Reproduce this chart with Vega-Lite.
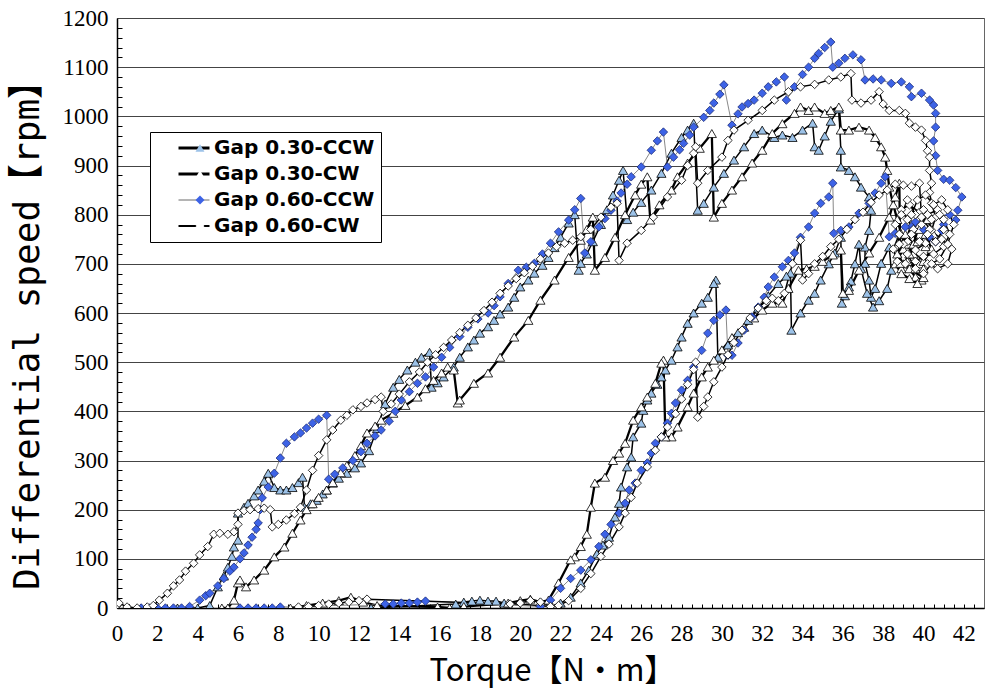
{
  "$schema": "https://vega.github.io/schema/vega-lite/v6.json",
  "autosize": "none",
  "width": 867,
  "height": 590,
  "padding": {"left": 117, "top": 18, "right": 2, "bottom": 82},
  "background": "#ffffff",
  "config": {
    "view": {"stroke": "#666666", "strokeWidth": 1},
    "axis": {"labelFont": "Liberation Sans Narrow", "titleFont": "Liberation Sans Narrow", "labelColor": "#000", "titleColor": "#000"}
  },
  "data": {"values": [
    {"g":"Gap 0.30-CCW","t":0.6,"v":0},{"g":"Gap 0.30-CCW","t":1.2,"v":0},{"g":"Gap 0.30-CCW","t":2.0,"v":0},{"g":"Gap 0.30-CCW","t":3.0,"v":0},{"g":"Gap 0.30-CCW","t":4.0,"v":0},{"g":"Gap 0.30-CCW","t":4.6,"v":5},
    {"g":"Gap 0.30-CCW","t":5.0,"v":43},{"g":"Gap 0.30-CCW","t":5.3,"v":65},{"g":"Gap 0.30-CCW","t":5.5,"v":83},{"g":"Gap 0.30-CCW","t":5.7,"v":105},{"g":"Gap 0.30-CCW","t":5.8,"v":124},{"g":"Gap 0.30-CCW","t":6.0,"v":138},{"g":"Gap 0.30-CCW","t":6.0,"v":193},{"g":"Gap 0.30-CCW","t":6.3,"v":205},{"g":"Gap 0.30-CCW","t":6.5,"v":213},{"g":"Gap 0.30-CCW","t":6.8,"v":228},{"g":"Gap 0.30-CCW","t":7.0,"v":240},{"g":"Gap 0.30-CCW","t":7.3,"v":258},{"g":"Gap 0.30-CCW","t":7.5,"v":274},{"g":"Gap 0.30-CCW","t":7.8,"v":245},{"g":"Gap 0.30-CCW","t":8.1,"v":240},{"g":"Gap 0.30-CCW","t":8.4,"v":240},{"g":"Gap 0.30-CCW","t":8.7,"v":245},{"g":"Gap 0.30-CCW","t":9.0,"v":255},{"g":"Gap 0.30-CCW","t":9.2,"v":266},{"g":"Gap 0.30-CCW","t":9.3,"v":205},{"g":"Gap 0.30-CCW","t":9.6,"v":212},{"g":"Gap 0.30-CCW","t":9.9,"v":219},{"g":"Gap 0.30-CCW","t":10.2,"v":232},{"g":"Gap 0.30-CCW","t":10.4,"v":240},{"g":"Gap 0.30-CCW","t":10.7,"v":254},{"g":"Gap 0.30-CCW","t":11.0,"v":264},{"g":"Gap 0.30-CCW","t":11.4,"v":274},{"g":"Gap 0.30-CCW","t":11.8,"v":285},{"g":"Gap 0.30-CCW","t":12.1,"v":295},{"g":"Gap 0.30-CCW","t":12.5,"v":320},{"g":"Gap 0.30-CCW","t":12.9,"v":365},{"g":"Gap 0.30-CCW","t":13.3,"v":415},{"g":"Gap 0.30-CCW","t":13.7,"v":449},{"g":"Gap 0.30-CCW","t":14.0,"v":465},{"g":"Gap 0.30-CCW","t":14.4,"v":484},{"g":"Gap 0.30-CCW","t":14.8,"v":500},{"g":"Gap 0.30-CCW","t":15.1,"v":510},{"g":"Gap 0.30-CCW","t":15.5,"v":520},{"g":"Gap 0.30-CCW","t":15.6,"v":449},{"g":"Gap 0.30-CCW","t":15.9,"v":458},{"g":"Gap 0.30-CCW","t":16.2,"v":470},{"g":"Gap 0.30-CCW","t":16.7,"v":490},{"g":"Gap 0.30-CCW","t":17.0,"v":510},{"g":"Gap 0.30-CCW","t":17.4,"v":531},{"g":"Gap 0.30-CCW","t":17.7,"v":545},{"g":"Gap 0.30-CCW","t":18.0,"v":559},{"g":"Gap 0.30-CCW","t":18.4,"v":572},{"g":"Gap 0.30-CCW","t":18.7,"v":585},{"g":"Gap 0.30-CCW","t":19.0,"v":598},{"g":"Gap 0.30-CCW","t":19.4,"v":612},{"g":"Gap 0.30-CCW","t":19.7,"v":632},{"g":"Gap 0.30-CCW","t":20.0,"v":653},{"g":"Gap 0.30-CCW","t":20.4,"v":667},{"g":"Gap 0.30-CCW","t":20.7,"v":681},{"g":"Gap 0.30-CCW","t":21.1,"v":697},{"g":"Gap 0.30-CCW","t":21.4,"v":713},{"g":"Gap 0.30-CCW","t":21.7,"v":733},{"g":"Gap 0.30-CCW","t":22.0,"v":754},{"g":"Gap 0.30-CCW","t":22.4,"v":783},{"g":"Gap 0.30-CCW","t":22.7,"v":800},{"g":"Gap 0.30-CCW","t":22.9,"v":687},{"g":"Gap 0.30-CCW","t":23.0,"v":701},{"g":"Gap 0.30-CCW","t":23.3,"v":720},{"g":"Gap 0.30-CCW","t":23.6,"v":745},{"g":"Gap 0.30-CCW","t":24.0,"v":780},{"g":"Gap 0.30-CCW","t":24.3,"v":810},{"g":"Gap 0.30-CCW","t":24.6,"v":840},{"g":"Gap 0.30-CCW","t":24.9,"v":870},{"g":"Gap 0.30-CCW","t":25.1,"v":890},{"g":"Gap 0.30-CCW","t":25.3,"v":790},{"g":"Gap 0.30-CCW","t":25.6,"v":805},{"g":"Gap 0.30-CCW","t":26.0,"v":825},{"g":"Gap 0.30-CCW","t":26.5,"v":850},{"g":"Gap 0.30-CCW","t":27.0,"v":884},{"g":"Gap 0.30-CCW","t":27.5,"v":925},{"g":"Gap 0.30-CCW","t":28.0,"v":957},{"g":"Gap 0.30-CCW","t":28.3,"v":972},{"g":"Gap 0.30-CCW","t":28.6,"v":986},{"g":"Gap 0.30-CCW","t":28.8,"v":809},{"g":"Gap 0.30-CCW","t":29.1,"v":823},{"g":"Gap 0.30-CCW","t":29.6,"v":856},{"g":"Gap 0.30-CCW","t":30.1,"v":884},{"g":"Gap 0.30-CCW","t":30.6,"v":911},{"g":"Gap 0.30-CCW","t":31.1,"v":938},{"g":"Gap 0.30-CCW","t":31.6,"v":965},{"g":"Gap 0.30-CCW","t":32.0,"v":972},{"g":"Gap 0.30-CCW","t":32.6,"v":957},{"g":"Gap 0.30-CCW","t":33.0,"v":962},{"g":"Gap 0.30-CCW","t":33.5,"v":957},{"g":"Gap 0.30-CCW","t":34.0,"v":972},{"g":"Gap 0.30-CCW","t":34.5,"v":986},{"g":"Gap 0.30-CCW","t":34.6,"v":938},{"g":"Gap 0.30-CCW","t":34.8,"v":931},{"g":"Gap 0.30-CCW","t":35.1,"v":960},{"g":"Gap 0.30-CCW","t":35.4,"v":990},{"g":"Gap 0.30-CCW","t":35.8,"v":1015},{"g":"Gap 0.30-CCW","t":35.9,"v":931},
    {"g":"Gap 0.30-CCW","t":35.9,"v":897},{"g":"Gap 0.30-CCW","t":36.3,"v":890},{"g":"Gap 0.30-CCW","t":36.6,"v":877},{"g":"Gap 0.30-CCW","t":36.9,"v":856},{"g":"Gap 0.30-CCW","t":37.3,"v":836},{"g":"Gap 0.30-CCW","t":37.4,"v":809},{"g":"Gap 0.30-CCW","t":37.3,"v":768},{"g":"Gap 0.30-CCW","t":37.1,"v":734},{"g":"Gap 0.30-CCW","t":37.1,"v":701},{"g":"Gap 0.30-CCW","t":37.3,"v":667},{"g":"Gap 0.30-CCW","t":37.4,"v":632},{"g":"Gap 0.30-CCW","t":37.6,"v":650},{"g":"Gap 0.30-CCW","t":37.9,"v":701},{"g":"Gap 0.30-CCW","t":38.3,"v":734},{"g":"Gap 0.30-CCW","t":38.4,"v":687},{"g":"Gap 0.30-CCW","t":38.2,"v":650},{"g":"Gap 0.30-CCW","t":37.8,"v":625},{"g":"Gap 0.30-CCW","t":37.5,"v":612},{"g":"Gap 0.30-CCW","t":37.2,"v":640},{"g":"Gap 0.30-CCW","t":36.9,"v":690},{"g":"Gap 0.30-CCW","t":36.8,"v":740},{"g":"Gap 0.30-CCW","t":36.6,"v":700},{"g":"Gap 0.30-CCW","t":36.4,"v":665},
    {"g":"Gap 0.30-CCW","t":36.3,"v":653},{"g":"Gap 0.30-CCW","t":36.1,"v":635},{"g":"Gap 0.30-CCW","t":35.95,"v":620},{"g":"Gap 0.30-CCW","t":35.9,"v":754},{"g":"Gap 0.30-CCW","t":35.6,"v":722},{"g":"Gap 0.30-CCW","t":35.3,"v":700},{"g":"Gap 0.30-CCW","t":34.9,"v":667},{"g":"Gap 0.30-CCW","t":34.6,"v":640},{"g":"Gap 0.30-CCW","t":34.3,"v":626},{"g":"Gap 0.30-CCW","t":33.9,"v":600},{"g":"Gap 0.30-CCW","t":33.45,"v":565},{"g":"Gap 0.30-CCW","t":33.4,"v":681},{"g":"Gap 0.30-CCW","t":33.2,"v":675},{"g":"Gap 0.30-CCW","t":32.8,"v":660},{"g":"Gap 0.30-CCW","t":32.3,"v":635},{"g":"Gap 0.30-CCW","t":31.8,"v":610},{"g":"Gap 0.30-CCW","t":31.3,"v":585},{"g":"Gap 0.30-CCW","t":30.8,"v":560},{"g":"Gap 0.30-CCW","t":30.3,"v":535},{"g":"Gap 0.30-CCW","t":29.8,"v":510},{"g":"Gap 0.30-CCW","t":29.7,"v":667},{"g":"Gap 0.30-CCW","t":29.6,"v":660},{"g":"Gap 0.30-CCW","t":29.3,"v":632},{"g":"Gap 0.30-CCW","t":29.0,"v":620},{"g":"Gap 0.30-CCW","t":28.6,"v":600},{"g":"Gap 0.30-CCW","t":28.3,"v":579},{"g":"Gap 0.30-CCW","t":28.0,"v":551},{"g":"Gap 0.30-CCW","t":27.8,"v":531},{"g":"Gap 0.30-CCW","t":27.5,"v":504},{"g":"Gap 0.30-CCW","t":27.2,"v":484},{"g":"Gap 0.30-CCW","t":27.0,"v":470},{"g":"Gap 0.30-CCW","t":26.8,"v":455},{"g":"Gap 0.30-CCW","t":26.5,"v":437},{"g":"Gap 0.30-CCW","t":26.3,"v":423},{"g":"Gap 0.30-CCW","t":26.1,"v":402},{"g":"Gap 0.30-CCW","t":26.0,"v":376},{"g":"Gap 0.30-CCW","t":25.6,"v":348},{"g":"Gap 0.30-CCW","t":25.5,"v":307},{"g":"Gap 0.30-CCW","t":25.3,"v":287},{"g":"Gap 0.30-CCW","t":25.0,"v":246},{"g":"Gap 0.30-CCW","t":24.9,"v":213},{"g":"Gap 0.30-CCW","t":24.7,"v":185},{"g":"Gap 0.30-CCW","t":24.4,"v":144},{"g":"Gap 0.30-CCW","t":24.1,"v":128},{"g":"Gap 0.30-CCW","t":23.8,"v":110},{"g":"Gap 0.30-CCW","t":23.4,"v":77},{"g":"Gap 0.30-CCW","t":23.0,"v":51},{"g":"Gap 0.30-CCW","t":22.5,"v":22},{"g":"Gap 0.30-CCW","t":22.0,"v":10},
    {"g":"Gap 0.30-CCW","t":21.5,"v":3},{"g":"Gap 0.30-CCW","t":19.2,"v":10},{"g":"Gap 0.30-CCW","t":18.8,"v":14},{"g":"Gap 0.30-CCW","t":18.4,"v":14},{"g":"Gap 0.30-CCW","t":18.0,"v":16},{"g":"Gap 0.30-CCW","t":17.6,"v":14},{"g":"Gap 0.30-CCW","t":17.2,"v":12},{"g":"Gap 0.30-CCW","t":16.8,"v":8},{"g":"Gap 0.30-CCW","t":12.6,"v":0},

    {"g":"Gap 0.30-CW","t":5.2,"v":0},{"g":"Gap 0.30-CW","t":5.5,"v":0},{"g":"Gap 0.30-CW","t":5.8,"v":16},{"g":"Gap 0.30-CW","t":6.0,"v":51},{"g":"Gap 0.30-CW","t":6.1,"v":57},{"g":"Gap 0.30-CW","t":6.4,"v":43},{"g":"Gap 0.30-CW","t":6.8,"v":57},{"g":"Gap 0.30-CW","t":7.3,"v":77},{"g":"Gap 0.30-CW","t":7.8,"v":104},{"g":"Gap 0.30-CW","t":8.3,"v":124},{"g":"Gap 0.30-CW","t":8.7,"v":152},{"g":"Gap 0.30-CW","t":9.1,"v":179},{"g":"Gap 0.30-CW","t":9.4,"v":200},{"g":"Gap 0.30-CW","t":9.7,"v":212},{"g":"Gap 0.30-CW","t":10.0,"v":225},{"g":"Gap 0.30-CW","t":10.4,"v":240},{"g":"Gap 0.30-CW","t":10.7,"v":255},{"g":"Gap 0.30-CW","t":11.1,"v":275},{"g":"Gap 0.30-CW","t":11.4,"v":290},{"g":"Gap 0.30-CW","t":11.8,"v":310},{"g":"Gap 0.30-CW","t":12.1,"v":330},{"g":"Gap 0.30-CW","t":12.4,"v":356},{"g":"Gap 0.30-CW","t":12.8,"v":370},{"g":"Gap 0.30-CW","t":13.1,"v":382},{"g":"Gap 0.30-CW","t":13.7,"v":396},{"g":"Gap 0.30-CW","t":14.3,"v":412},{"g":"Gap 0.30-CW","t":14.9,"v":429},{"g":"Gap 0.30-CW","t":15.3,"v":446},{"g":"Gap 0.30-CW","t":15.7,"v":463},{"g":"Gap 0.30-CW","t":16.1,"v":478},{"g":"Gap 0.30-CW","t":16.4,"v":490},{"g":"Gap 0.30-CW","t":16.7,"v":484},{"g":"Gap 0.30-CW","t":16.9,"v":417},{"g":"Gap 0.30-CW","t":17.0,"v":423},{"g":"Gap 0.30-CW","t":17.7,"v":457},{"g":"Gap 0.30-CW","t":18.4,"v":478},{"g":"Gap 0.30-CW","t":19.0,"v":510},{"g":"Gap 0.30-CW","t":19.7,"v":551},{"g":"Gap 0.30-CW","t":20.4,"v":585},{"g":"Gap 0.30-CW","t":21.0,"v":626},{"g":"Gap 0.30-CW","t":21.7,"v":667},{"g":"Gap 0.30-CW","t":22.4,"v":713},{"g":"Gap 0.30-CW","t":23.0,"v":748},{"g":"Gap 0.30-CW","t":23.3,"v":770},{"g":"Gap 0.30-CW","t":23.6,"v":795},{"g":"Gap 0.30-CW","t":23.7,"v":687},{"g":"Gap 0.30-CW","t":24.2,"v":713},{"g":"Gap 0.30-CW","t":24.7,"v":754},{"g":"Gap 0.30-CW","t":25.2,"v":800},{"g":"Gap 0.30-CW","t":25.7,"v":840},{"g":"Gap 0.30-CW","t":26.0,"v":862},{"g":"Gap 0.30-CW","t":26.3,"v":877},{"g":"Gap 0.30-CW","t":26.45,"v":789},{"g":"Gap 0.30-CW","t":26.9,"v":820},{"g":"Gap 0.30-CW","t":27.5,"v":850},{"g":"Gap 0.30-CW","t":27.8,"v":877},{"g":"Gap 0.30-CW","t":28.3,"v":905},{"g":"Gap 0.30-CW","t":28.9,"v":935},{"g":"Gap 0.30-CW","t":29.5,"v":965},{"g":"Gap 0.30-CW","t":29.6,"v":795},{"g":"Gap 0.30-CW","t":30.0,"v":823},{"g":"Gap 0.30-CW","t":30.5,"v":850},{"g":"Gap 0.30-CW","t":31.0,"v":877},{"g":"Gap 0.30-CW","t":31.5,"v":905},{"g":"Gap 0.30-CW","t":32.0,"v":931},{"g":"Gap 0.30-CW","t":32.5,"v":965},{"g":"Gap 0.30-CW","t":33.0,"v":985},{"g":"Gap 0.30-CW","t":33.6,"v":1006},{"g":"Gap 0.30-CW","t":33.9,"v":1019},{"g":"Gap 0.30-CW","t":34.3,"v":1012},{"g":"Gap 0.30-CW","t":34.6,"v":1019},{"g":"Gap 0.30-CW","t":35.1,"v":1006},{"g":"Gap 0.30-CW","t":35.4,"v":1012},{"g":"Gap 0.30-CW","t":35.8,"v":1019},
    {"g":"Gap 0.30-CW","t":35.9,"v":972},{"g":"Gap 0.30-CW","t":36.3,"v":972},{"g":"Gap 0.30-CW","t":36.8,"v":978},{"g":"Gap 0.30-CW","t":37.3,"v":972},{"g":"Gap 0.30-CW","t":37.6,"v":957},{"g":"Gap 0.30-CW","t":37.9,"v":938},{"g":"Gap 0.30-CW","t":38.1,"v":917},{"g":"Gap 0.30-CW","t":38.2,"v":890},{"g":"Gap 0.30-CW","t":38.3,"v":856},{"g":"Gap 0.30-CW","t":38.5,"v":820},{"g":"Gap 0.30-CW","t":38.7,"v":790},{"g":"Gap 0.30-CW","t":38.9,"v":760},{"g":"Gap 0.30-CW","t":39.2,"v":740},{"g":"Gap 0.30-CW","t":39.5,"v":720},{"g":"Gap 0.30-CW","t":39.8,"v":700},{"g":"Gap 0.30-CW","t":40.0,"v":690},{"g":"Gap 0.30-CW","t":39.9,"v":667},{"g":"Gap 0.30-CW","t":39.6,"v":673},{"g":"Gap 0.30-CW","t":39.3,"v":690},{"g":"Gap 0.30-CW","t":39.0,"v":700},{"g":"Gap 0.30-CW","t":38.7,"v":720},{"g":"Gap 0.30-CW","t":39.1,"v":760},{"g":"Gap 0.30-CW","t":39.5,"v":740},{"g":"Gap 0.30-CW","t":39.8,"v":780},{"g":"Gap 0.30-CW","t":40.1,"v":760},{"g":"Gap 0.30-CW","t":40.4,"v":730},{"g":"Gap 0.30-CW","t":40.0,"v":705},{"g":"Gap 0.30-CW","t":39.6,"v":690},{"g":"Gap 0.30-CW","t":39.2,"v":705},{"g":"Gap 0.30-CW","t":38.9,"v":690},{"g":"Gap 0.30-CW","t":39.3,"v":720},{"g":"Gap 0.30-CW","t":39.7,"v":745},{"g":"Gap 0.30-CW","t":40.1,"v":735},{"g":"Gap 0.30-CW","t":40.5,"v":760},{"g":"Gap 0.30-CW","t":40.2,"v":790},{"g":"Gap 0.30-CW","t":39.8,"v":770},{"g":"Gap 0.30-CW","t":39.4,"v":780},{"g":"Gap 0.30-CW","t":39.0,"v":730},{"g":"Gap 0.30-CW","t":38.6,"v":700},{"g":"Gap 0.30-CW","t":38.9,"v":680},{"g":"Gap 0.30-CW","t":39.3,"v":670},{"g":"Gap 0.30-CW","t":39.7,"v":660},{"g":"Gap 0.30-CW","t":40.0,"v":672},
    {"g":"Gap 0.30-CW","t":38.85,"v":701},{"g":"Gap 0.30-CW","t":38.8,"v":864},{"g":"Gap 0.30-CW","t":38.6,"v":836},{"g":"Gap 0.30-CW","t":38.3,"v":795},{"g":"Gap 0.30-CW","t":37.8,"v":754},{"g":"Gap 0.30-CW","t":37.3,"v":722},{"g":"Gap 0.30-CW","t":36.8,"v":687},{"g":"Gap 0.30-CW","t":36.3,"v":646},{"g":"Gap 0.30-CW","t":36.0,"v":640},{"g":"Gap 0.30-CW","t":35.9,"v":728},{"g":"Gap 0.30-CW","t":35.5,"v":718},{"g":"Gap 0.30-CW","t":35.0,"v":705},{"g":"Gap 0.30-CW","t":34.6,"v":695},{"g":"Gap 0.30-CW","t":34.2,"v":690},{"g":"Gap 0.30-CW","t":33.8,"v":687},{"g":"Gap 0.30-CW","t":33.3,"v":650},{"g":"Gap 0.30-CW","t":33.0,"v":620},{"g":"Gap 0.30-CW","t":32.5,"v":620},{"g":"Gap 0.30-CW","t":32.0,"v":606},{"g":"Gap 0.30-CW","t":31.6,"v":590},{"g":"Gap 0.30-CW","t":31.1,"v":571},{"g":"Gap 0.30-CW","t":30.5,"v":550},{"g":"Gap 0.30-CW","t":30.0,"v":525},{"g":"Gap 0.30-CW","t":29.6,"v":504},{"g":"Gap 0.30-CW","t":29.3,"v":490},{"g":"Gap 0.30-CW","t":29.0,"v":470},{"g":"Gap 0.30-CW","t":28.6,"v":437},{"g":"Gap 0.30-CW","t":28.3,"v":409},{"g":"Gap 0.30-CW","t":27.8,"v":368},{"g":"Gap 0.30-CW","t":27.5,"v":348},{"g":"Gap 0.30-CW","t":27.2,"v":348},{"g":"Gap 0.30-CW","t":27.1,"v":504},{"g":"Gap 0.30-CW","t":27.0,"v":498},{"g":"Gap 0.30-CW","t":26.7,"v":457},{"g":"Gap 0.30-CW","t":26.3,"v":429},{"g":"Gap 0.30-CW","t":26.0,"v":409},{"g":"Gap 0.30-CW","t":25.6,"v":382},{"g":"Gap 0.30-CW","t":25.2,"v":335},{"g":"Gap 0.30-CW","t":24.9,"v":315},{"g":"Gap 0.30-CW","t":24.6,"v":300},{"g":"Gap 0.30-CW","t":24.2,"v":266},{"g":"Gap 0.30-CW","t":23.7,"v":254},{"g":"Gap 0.30-CW","t":23.5,"v":205},{"g":"Gap 0.30-CW","t":23.3,"v":150},{"g":"Gap 0.30-CW","t":23.0,"v":125},{"g":"Gap 0.30-CW","t":22.7,"v":104},{"g":"Gap 0.30-CW","t":22.5,"v":98},{"g":"Gap 0.30-CW","t":21.9,"v":51},{"g":"Gap 0.30-CW","t":21.4,"v":16},
    {"g":"Gap 0.30-CW","t":21.0,"v":12},{"g":"Gap 0.30-CW","t":20.5,"v":18},{"g":"Gap 0.30-CW","t":20.0,"v":15},{"g":"Gap 0.30-CW","t":19.4,"v":10},{"g":"Gap 0.30-CW","t":17.2,"v":3},{"g":"Gap 0.30-CW","t":16.5,"v":0},{"g":"Gap 0.30-CW","t":15.9,"v":2},{"g":"Gap 0.30-CW","t":12.9,"v":5},{"g":"Gap 0.30-CW","t":12.2,"v":12},{"g":"Gap 0.30-CW","t":11.6,"v":22},{"g":"Gap 0.30-CW","t":11.0,"v":15},{"g":"Gap 0.30-CW","t":10.2,"v":10},{"g":"Gap 0.30-CW","t":9.4,"v":5},{"g":"Gap 0.30-CW","t":8.6,"v":0},

    {"g":"Gap 0.60-CCW","t":1.2,"v":0},{"g":"Gap 0.60-CCW","t":1.6,"v":0},{"g":"Gap 0.60-CCW","t":2.0,"v":0},{"g":"Gap 0.60-CCW","t":2.4,"v":0},{"g":"Gap 0.60-CCW","t":2.8,"v":0},{"g":"Gap 0.60-CCW","t":3.2,"v":0},{"g":"Gap 0.60-CCW","t":3.6,"v":3},
    {"g":"Gap 0.60-CCW","t":4.1,"v":16},{"g":"Gap 0.60-CCW","t":4.4,"v":25},{"g":"Gap 0.60-CCW","t":4.6,"v":30},{"g":"Gap 0.60-CCW","t":5.0,"v":45},{"g":"Gap 0.60-CCW","t":5.3,"v":60},{"g":"Gap 0.60-CCW","t":5.6,"v":75},{"g":"Gap 0.60-CCW","t":5.8,"v":83},{"g":"Gap 0.60-CCW","t":6.1,"v":100},{"g":"Gap 0.60-CCW","t":6.3,"v":112},{"g":"Gap 0.60-CCW","t":6.5,"v":128},{"g":"Gap 0.60-CCW","t":6.7,"v":144},{"g":"Gap 0.60-CCW","t":6.9,"v":160},{"g":"Gap 0.60-CCW","t":7.0,"v":173},{"g":"Gap 0.60-CCW","t":7.1,"v":200},{"g":"Gap 0.60-CCW","t":7.2,"v":224},{"g":"Gap 0.60-CCW","t":7.5,"v":246},{"g":"Gap 0.60-CCW","t":7.8,"v":274},{"g":"Gap 0.60-CCW","t":8.1,"v":305},{"g":"Gap 0.60-CCW","t":8.4,"v":335},{"g":"Gap 0.60-CCW","t":8.8,"v":348},{"g":"Gap 0.60-CCW","t":9.1,"v":356},{"g":"Gap 0.60-CCW","t":9.4,"v":366},{"g":"Gap 0.60-CCW","t":9.7,"v":376},{"g":"Gap 0.60-CCW","t":10.0,"v":384},{"g":"Gap 0.60-CCW","t":10.4,"v":392},{"g":"Gap 0.60-CCW","t":10.5,"v":262},{"g":"Gap 0.60-CCW","t":10.8,"v":272},{"g":"Gap 0.60-CCW","t":11.2,"v":285},{"g":"Gap 0.60-CCW","t":11.7,"v":300},{"g":"Gap 0.60-CCW","t":12.1,"v":318},{"g":"Gap 0.60-CCW","t":12.4,"v":335},{"g":"Gap 0.60-CCW","t":12.8,"v":350},{"g":"Gap 0.60-CCW","t":13.1,"v":362},{"g":"Gap 0.60-CCW","t":13.5,"v":380},{"g":"Gap 0.60-CCW","t":13.8,"v":400},{"g":"Gap 0.60-CCW","t":14.1,"v":423},{"g":"Gap 0.60-CCW","t":14.5,"v":440},{"g":"Gap 0.60-CCW","t":14.9,"v":457},{"g":"Gap 0.60-CCW","t":15.3,"v":470},{"g":"Gap 0.60-CCW","t":15.7,"v":490},{"g":"Gap 0.60-CCW","t":16.1,"v":510},{"g":"Gap 0.60-CCW","t":16.5,"v":530},{"g":"Gap 0.60-CCW","t":17.0,"v":552},{"g":"Gap 0.60-CCW","t":17.4,"v":571},{"g":"Gap 0.60-CCW","t":17.9,"v":588},{"g":"Gap 0.60-CCW","t":18.4,"v":600},{"g":"Gap 0.60-CCW","t":18.7,"v":615},{"g":"Gap 0.60-CCW","t":19.0,"v":633},{"g":"Gap 0.60-CCW","t":19.4,"v":660},{"g":"Gap 0.60-CCW","t":19.9,"v":687},{"g":"Gap 0.60-CCW","t":20.3,"v":693},{"g":"Gap 0.60-CCW","t":20.7,"v":701},{"g":"Gap 0.60-CCW","t":21.1,"v":720},{"g":"Gap 0.60-CCW","t":21.5,"v":742},{"g":"Gap 0.60-CCW","t":21.9,"v":765},{"g":"Gap 0.60-CCW","t":22.4,"v":789},{"g":"Gap 0.60-CCW","t":22.7,"v":810},{"g":"Gap 0.60-CCW","t":23.0,"v":833},{"g":"Gap 0.60-CCW","t":23.2,"v":722},{"g":"Gap 0.60-CCW","t":23.5,"v":745},{"g":"Gap 0.60-CCW","t":23.9,"v":775},{"g":"Gap 0.60-CCW","t":24.2,"v":792},{"g":"Gap 0.60-CCW","t":24.5,"v":809},{"g":"Gap 0.60-CCW","t":24.8,"v":828},{"g":"Gap 0.60-CCW","t":25.0,"v":844},{"g":"Gap 0.60-CCW","t":25.3,"v":862},{"g":"Gap 0.60-CCW","t":25.5,"v":877},{"g":"Gap 0.60-CCW","t":26.0,"v":897},{"g":"Gap 0.60-CCW","t":26.5,"v":931},{"g":"Gap 0.60-CCW","t":26.8,"v":950},{"g":"Gap 0.60-CCW","t":27.1,"v":968},{"g":"Gap 0.60-CCW","t":27.3,"v":897},{"g":"Gap 0.60-CCW","t":27.6,"v":917},{"g":"Gap 0.60-CCW","t":27.9,"v":932},{"g":"Gap 0.60-CCW","t":28.1,"v":945},{"g":"Gap 0.60-CCW","t":28.4,"v":962},{"g":"Gap 0.60-CCW","t":28.6,"v":978},{"g":"Gap 0.60-CCW","t":29.1,"v":998},{"g":"Gap 0.60-CCW","t":29.4,"v":1012},{"g":"Gap 0.60-CCW","t":29.6,"v":1027},{"g":"Gap 0.60-CCW","t":29.9,"v":1045},{"g":"Gap 0.60-CCW","t":30.1,"v":1064},{"g":"Gap 0.60-CCW","t":30.5,"v":982},{"g":"Gap 0.60-CCW","t":30.8,"v":1005},{"g":"Gap 0.60-CCW","t":31.0,"v":1019},{"g":"Gap 0.60-CCW","t":31.3,"v":1026},{"g":"Gap 0.60-CCW","t":31.6,"v":1033},{"g":"Gap 0.60-CCW","t":32.0,"v":1047},{"g":"Gap 0.60-CCW","t":32.3,"v":1060},{"g":"Gap 0.60-CCW","t":32.7,"v":1070},{"g":"Gap 0.60-CCW","t":33.1,"v":1080},{"g":"Gap 0.60-CCW","t":33.2,"v":1033},{"g":"Gap 0.60-CCW","t":33.6,"v":1060},{"g":"Gap 0.60-CCW","t":34.0,"v":1085},{"g":"Gap 0.60-CCW","t":34.3,"v":1100},{"g":"Gap 0.60-CCW","t":34.6,"v":1118},{"g":"Gap 0.60-CCW","t":34.8,"v":1128},{"g":"Gap 0.60-CCW","t":35.1,"v":1140},{"g":"Gap 0.60-CCW","t":35.4,"v":1151},
    {"g":"Gap 0.60-CCW","t":35.5,"v":1100},{"g":"Gap 0.60-CCW","t":35.8,"v":1108},{"g":"Gap 0.60-CCW","t":36.1,"v":1118},{"g":"Gap 0.60-CCW","t":36.5,"v":1125},{"g":"Gap 0.60-CCW","t":36.9,"v":1115},{"g":"Gap 0.60-CCW","t":37.1,"v":1074},{"g":"Gap 0.60-CCW","t":37.5,"v":1076},{"g":"Gap 0.60-CCW","t":37.9,"v":1074},{"g":"Gap 0.60-CCW","t":38.4,"v":1067},{"g":"Gap 0.60-CCW","t":38.9,"v":1070},{"g":"Gap 0.60-CCW","t":39.3,"v":1060},{"g":"Gap 0.60-CCW","t":39.4,"v":1040},{"g":"Gap 0.60-CCW","t":39.9,"v":1047},{"g":"Gap 0.60-CCW","t":40.3,"v":1033},{"g":"Gap 0.60-CCW","t":40.5,"v":1023},{"g":"Gap 0.60-CCW","t":40.6,"v":1006},{"g":"Gap 0.60-CCW","t":40.6,"v":978},{"g":"Gap 0.60-CCW","t":40.5,"v":950},{"g":"Gap 0.60-CCW","t":40.6,"v":920},{"g":"Gap 0.60-CCW","t":40.7,"v":890},{"g":"Gap 0.60-CCW","t":41.0,"v":872},{"g":"Gap 0.60-CCW","t":41.3,"v":870},{"g":"Gap 0.60-CCW","t":41.6,"v":855},{"g":"Gap 0.60-CCW","t":41.9,"v":836},{"g":"Gap 0.60-CCW","t":41.7,"v":809},{"g":"Gap 0.60-CCW","t":41.6,"v":789},{"g":"Gap 0.60-CCW","t":41.3,"v":800},{"g":"Gap 0.60-CCW","t":41.0,"v":780},{"g":"Gap 0.60-CCW","t":40.9,"v":768},{"g":"Gap 0.60-CCW","t":40.6,"v":745},{"g":"Gap 0.60-CCW","t":40.3,"v":755},{"g":"Gap 0.60-CCW","t":40.0,"v":770},{"g":"Gap 0.60-CCW","t":39.6,"v":785},{"g":"Gap 0.60-CCW","t":39.4,"v":775},{"g":"Gap 0.60-CCW","t":39.1,"v":775},{"g":"Gap 0.60-CCW","t":38.6,"v":762},{"g":"Gap 0.60-CCW","t":38.3,"v":755},
    {"g":"Gap 0.60-CCW","t":38.1,"v":877},{"g":"Gap 0.60-CCW","t":37.9,"v":864},{"g":"Gap 0.60-CCW","t":37.6,"v":844},{"g":"Gap 0.60-CCW","t":37.3,"v":823},{"g":"Gap 0.60-CCW","t":36.8,"v":803},{"g":"Gap 0.60-CCW","t":36.3,"v":775},{"g":"Gap 0.60-CCW","t":35.9,"v":768},{"g":"Gap 0.60-CCW","t":35.55,"v":762},{"g":"Gap 0.60-CCW","t":35.5,"v":864},{"g":"Gap 0.60-CCW","t":35.3,"v":836},{"g":"Gap 0.60-CCW","t":34.9,"v":823},{"g":"Gap 0.60-CCW","t":34.6,"v":803},{"g":"Gap 0.60-CCW","t":34.3,"v":775},{"g":"Gap 0.60-CCW","t":33.9,"v":754},{"g":"Gap 0.60-CCW","t":33.6,"v":722},{"g":"Gap 0.60-CCW","t":33.3,"v":707},{"g":"Gap 0.60-CCW","t":33.0,"v":694},{"g":"Gap 0.60-CCW","t":32.6,"v":673},{"g":"Gap 0.60-CCW","t":32.3,"v":653},{"g":"Gap 0.60-CCW","t":32.1,"v":632},{"g":"Gap 0.60-CCW","t":31.8,"v":612},{"g":"Gap 0.60-CCW","t":31.5,"v":592},{"g":"Gap 0.60-CCW","t":31.1,"v":565},{"g":"Gap 0.60-CCW","t":30.8,"v":539},{"g":"Gap 0.60-CCW","t":30.5,"v":514},{"g":"Gap 0.60-CCW","t":30.3,"v":514},{"g":"Gap 0.60-CCW","t":30.2,"v":606},{"g":"Gap 0.60-CCW","t":29.9,"v":596},{"g":"Gap 0.60-CCW","t":29.6,"v":585},{"g":"Gap 0.60-CCW","t":29.3,"v":559},{"g":"Gap 0.60-CCW","t":29.0,"v":524},{"g":"Gap 0.60-CCW","t":28.6,"v":490},{"g":"Gap 0.60-CCW","t":28.3,"v":463},{"g":"Gap 0.60-CCW","t":28.0,"v":443},{"g":"Gap 0.60-CCW","t":27.7,"v":417},{"g":"Gap 0.60-CCW","t":27.5,"v":396},{"g":"Gap 0.60-CCW","t":27.3,"v":376},{"g":"Gap 0.60-CCW","t":27.0,"v":348},{"g":"Gap 0.60-CCW","t":26.7,"v":335},{"g":"Gap 0.60-CCW","t":26.5,"v":315},{"g":"Gap 0.60-CCW","t":26.3,"v":295},{"g":"Gap 0.60-CCW","t":26.0,"v":280},{"g":"Gap 0.60-CCW","t":25.7,"v":254},{"g":"Gap 0.60-CCW","t":25.4,"v":240},{"g":"Gap 0.60-CCW","t":25.2,"v":213},{"g":"Gap 0.60-CCW","t":24.9,"v":193},{"g":"Gap 0.60-CCW","t":24.5,"v":170},{"g":"Gap 0.60-CCW","t":24.2,"v":150},{"g":"Gap 0.60-CCW","t":23.9,"v":125},{"g":"Gap 0.60-CCW","t":23.5,"v":98},{"g":"Gap 0.60-CCW","t":23.0,"v":77},{"g":"Gap 0.60-CCW","t":22.5,"v":60},{"g":"Gap 0.60-CCW","t":22.0,"v":40},{"g":"Gap 0.60-CCW","t":21.5,"v":16},
    {"g":"Gap 0.60-CCW","t":21.0,"v":3},{"g":"Gap 0.60-CCW","t":15.3,"v":14},{"g":"Gap 0.60-CCW","t":14.9,"v":12},{"g":"Gap 0.60-CCW","t":14.5,"v":10},{"g":"Gap 0.60-CCW","t":14.1,"v":10},{"g":"Gap 0.60-CCW","t":13.7,"v":8},{"g":"Gap 0.60-CCW","t":13.3,"v":8},{"g":"Gap 0.60-CCW","t":8.1,"v":2},{"g":"Gap 0.60-CCW","t":7.7,"v":0},{"g":"Gap 0.60-CCW","t":7.3,"v":0},{"g":"Gap 0.60-CCW","t":6.9,"v":0},{"g":"Gap 0.60-CCW","t":6.5,"v":0},{"g":"Gap 0.60-CCW","t":6.1,"v":0},

    {"g":"Gap 0.60-CW","t":0.0,"v":5},{"g":"Gap 0.60-CW","t":0.1,"v":10},{"g":"Gap 0.60-CW","t":0.5,"v":2},{"g":"Gap 0.60-CW","t":1.0,"v":0},{"g":"Gap 0.60-CW","t":1.5,"v":2},{"g":"Gap 0.60-CW","t":1.8,"v":5},
    {"g":"Gap 0.60-CW","t":2.1,"v":16},{"g":"Gap 0.60-CW","t":2.5,"v":30},{"g":"Gap 0.60-CW","t":2.8,"v":45},{"g":"Gap 0.60-CW","t":3.1,"v":57},{"g":"Gap 0.60-CW","t":3.4,"v":75},{"g":"Gap 0.60-CW","t":3.8,"v":91},{"g":"Gap 0.60-CW","t":4.1,"v":108},{"g":"Gap 0.60-CW","t":4.5,"v":125},{"g":"Gap 0.60-CW","t":4.8,"v":150},{"g":"Gap 0.60-CW","t":5.1,"v":152},{"g":"Gap 0.60-CW","t":5.5,"v":150},{"g":"Gap 0.60-CW","t":5.8,"v":155},{"g":"Gap 0.60-CW","t":6.0,"v":170},{"g":"Gap 0.60-CW","t":6.0,"v":193},{"g":"Gap 0.60-CW","t":6.3,"v":198},{"g":"Gap 0.60-CW","t":6.6,"v":200},{"g":"Gap 0.60-CW","t":7.0,"v":202},{"g":"Gap 0.60-CW","t":7.3,"v":203},{"g":"Gap 0.60-CW","t":7.6,"v":200},{"g":"Gap 0.60-CW","t":7.7,"v":165},{"g":"Gap 0.60-CW","t":8.0,"v":170},{"g":"Gap 0.60-CW","t":8.4,"v":179},{"g":"Gap 0.60-CW","t":8.8,"v":192},{"g":"Gap 0.60-CW","t":9.1,"v":205},{"g":"Gap 0.60-CW","t":9.4,"v":240},{"g":"Gap 0.60-CW","t":9.7,"v":280},{"g":"Gap 0.60-CW","t":10.0,"v":310},{"g":"Gap 0.60-CW","t":10.4,"v":342},{"g":"Gap 0.60-CW","t":10.7,"v":362},{"g":"Gap 0.60-CW","t":11.1,"v":382},{"g":"Gap 0.60-CW","t":11.4,"v":392},{"g":"Gap 0.60-CW","t":11.7,"v":403},{"g":"Gap 0.60-CW","t":12.1,"v":410},{"g":"Gap 0.60-CW","t":12.4,"v":417},{"g":"Gap 0.60-CW","t":12.8,"v":424},{"g":"Gap 0.60-CW","t":13.1,"v":429},{"g":"Gap 0.60-CW","t":13.2,"v":400},{"g":"Gap 0.60-CW","t":13.6,"v":415},{"g":"Gap 0.60-CW","t":14.0,"v":435},{"g":"Gap 0.60-CW","t":14.5,"v":460},{"g":"Gap 0.60-CW","t":15.0,"v":480},{"g":"Gap 0.60-CW","t":15.4,"v":500},{"g":"Gap 0.60-CW","t":15.8,"v":515},{"g":"Gap 0.60-CW","t":16.2,"v":530},{"g":"Gap 0.60-CW","t":16.6,"v":545},{"g":"Gap 0.60-CW","t":17.0,"v":560},{"g":"Gap 0.60-CW","t":17.4,"v":575},{"g":"Gap 0.60-CW","t":17.8,"v":590},{"g":"Gap 0.60-CW","t":18.2,"v":605},{"g":"Gap 0.60-CW","t":18.6,"v":622},{"g":"Gap 0.60-CW","t":19.0,"v":640},{"g":"Gap 0.60-CW","t":19.4,"v":655},{"g":"Gap 0.60-CW","t":19.8,"v":670},{"g":"Gap 0.60-CW","t":20.2,"v":682},{"g":"Gap 0.60-CW","t":20.6,"v":695},{"g":"Gap 0.60-CW","t":21.0,"v":710},{"g":"Gap 0.60-CW","t":21.4,"v":722},{"g":"Gap 0.60-CW","t":21.8,"v":735},{"g":"Gap 0.60-CW","t":22.2,"v":742},{"g":"Gap 0.60-CW","t":22.6,"v":748},{"g":"Gap 0.60-CW","t":23.0,"v":755},{"g":"Gap 0.60-CW","t":23.5,"v":770},{"g":"Gap 0.60-CW","t":24.0,"v":795},{"g":"Gap 0.60-CW","t":24.5,"v":815},{"g":"Gap 0.60-CW","t":24.8,"v":823},{"g":"Gap 0.60-CW","t":24.9,"v":707},{"g":"Gap 0.60-CW","t":25.3,"v":742},{"g":"Gap 0.60-CW","t":26.0,"v":768},{"g":"Gap 0.60-CW","t":26.6,"v":795},{"g":"Gap 0.60-CW","t":27.3,"v":836},{"g":"Gap 0.60-CW","t":28.0,"v":870},{"g":"Gap 0.60-CW","t":28.3,"v":900},{"g":"Gap 0.60-CW","t":28.6,"v":925},{"g":"Gap 0.60-CW","t":28.7,"v":938},{"g":"Gap 0.60-CW","t":28.8,"v":864},{"g":"Gap 0.60-CW","t":29.3,"v":890},{"g":"Gap 0.60-CW","t":30.0,"v":917},{"g":"Gap 0.60-CW","t":30.3,"v":951},{"g":"Gap 0.60-CW","t":30.6,"v":972},{"g":"Gap 0.60-CW","t":31.3,"v":992},{"g":"Gap 0.60-CW","t":32.0,"v":1012},{"g":"Gap 0.60-CW","t":32.6,"v":1033},{"g":"Gap 0.60-CW","t":33.3,"v":1050},{"g":"Gap 0.60-CW","t":33.9,"v":1060},{"g":"Gap 0.60-CW","t":34.6,"v":1065},{"g":"Gap 0.60-CW","t":35.3,"v":1074},{"g":"Gap 0.60-CW","t":35.9,"v":1080},{"g":"Gap 0.60-CW","t":36.4,"v":1087},{"g":"Gap 0.60-CW","t":36.45,"v":1033},
    {"g":"Gap 0.60-CW","t":36.9,"v":1027},{"g":"Gap 0.60-CW","t":37.4,"v":1033},{"g":"Gap 0.60-CW","t":37.8,"v":1050},{"g":"Gap 0.60-CW","t":38.0,"v":1025},{"g":"Gap 0.60-CW","t":38.3,"v":1012},{"g":"Gap 0.60-CW","t":38.8,"v":1012},{"g":"Gap 0.60-CW","t":39.1,"v":1006},{"g":"Gap 0.60-CW","t":39.3,"v":986},{"g":"Gap 0.60-CW","t":39.6,"v":978},{"g":"Gap 0.60-CW","t":39.9,"v":972},{"g":"Gap 0.60-CW","t":40.1,"v":951},{"g":"Gap 0.60-CW","t":40.2,"v":930},{"g":"Gap 0.60-CW","t":40.3,"v":917},{"g":"Gap 0.60-CW","t":40.3,"v":890},{"g":"Gap 0.60-CW","t":40.4,"v":864},{"g":"Gap 0.60-CW","t":40.3,"v":845},{"g":"Gap 0.60-CW","t":40.4,"v":823},{"g":"Gap 0.60-CW","t":40.6,"v":795},{"g":"Gap 0.60-CW","t":40.4,"v":768},{"g":"Gap 0.60-CW","t":40.1,"v":742},{"g":"Gap 0.60-CW","t":39.6,"v":728},{"g":"Gap 0.60-CW","t":39.2,"v":745},{"g":"Gap 0.60-CW","t":38.8,"v":760},{"g":"Gap 0.60-CW","t":38.5,"v":730},{"g":"Gap 0.60-CW","t":38.7,"v":705},{"g":"Gap 0.60-CW","t":39.1,"v":700},{"g":"Gap 0.60-CW","t":39.6,"v":705},{"g":"Gap 0.60-CW","t":40.0,"v":715},{"g":"Gap 0.60-CW","t":40.5,"v":720},{"g":"Gap 0.60-CW","t":41.0,"v":735},{"g":"Gap 0.60-CW","t":41.3,"v":760},{"g":"Gap 0.60-CW","t":41.0,"v":790},{"g":"Gap 0.60-CW","t":40.7,"v":810},{"g":"Gap 0.60-CW","t":40.2,"v":800},{"g":"Gap 0.60-CW","t":39.9,"v":780},{"g":"Gap 0.60-CW","t":39.5,"v":770},{"g":"Gap 0.60-CW","t":39.2,"v":790},{"g":"Gap 0.60-CW","t":38.9,"v":810},{"g":"Gap 0.60-CW","t":39.3,"v":820},{"g":"Gap 0.60-CW","t":39.8,"v":805},{"g":"Gap 0.60-CW","t":40.3,"v":770},{"g":"Gap 0.60-CW","t":40.9,"v":750},{"g":"Gap 0.60-CW","t":41.4,"v":730},{"g":"Gap 0.60-CW","t":41.2,"v":700},{"g":"Gap 0.60-CW","t":40.7,"v":690},{"g":"Gap 0.60-CW","t":40.2,"v":700},{"g":"Gap 0.60-CW","t":39.0,"v":740},{"g":"Gap 0.60-CW","t":39.4,"v":760},{"g":"Gap 0.60-CW","t":39.8,"v":745},{"g":"Gap 0.60-CW","t":40.2,"v":760},{"g":"Gap 0.60-CW","t":40.6,"v":745},{"g":"Gap 0.60-CW","t":41.0,"v":770},{"g":"Gap 0.60-CW","t":40.8,"v":800},{"g":"Gap 0.60-CW","t":40.4,"v":790},{"g":"Gap 0.60-CW","t":40.0,"v":810},{"g":"Gap 0.60-CW","t":39.6,"v":800},{"g":"Gap 0.60-CW","t":39.2,"v":830},{"g":"Gap 0.60-CW","t":38.9,"v":800},{"g":"Gap 0.60-CW","t":38.6,"v":780},{"g":"Gap 0.60-CW","t":38.8,"v":740},{"g":"Gap 0.60-CW","t":39.2,"v":720},{"g":"Gap 0.60-CW","t":39.6,"v":690},{"g":"Gap 0.60-CW","t":40.0,"v":680},{"g":"Gap 0.60-CW","t":40.4,"v":700},{"g":"Gap 0.60-CW","t":40.8,"v":710},{"g":"Gap 0.60-CW","t":41.2,"v":740},{"g":"Gap 0.60-CW","t":41.5,"v":780},{"g":"Gap 0.60-CW","t":41.2,"v":810},{"g":"Gap 0.60-CW","t":40.9,"v":830},{"g":"Gap 0.60-CW","t":40.5,"v":820},{"g":"Gap 0.60-CW","t":40.1,"v":840},{"g":"Gap 0.60-CW","t":39.7,"v":830},{"g":"Gap 0.60-CW","t":39.4,"v":800},{"g":"Gap 0.60-CW","t":39.9,"v":795},
    {"g":"Gap 0.60-CW","t":39.8,"v":864},{"g":"Gap 0.60-CW","t":39.4,"v":858},{"g":"Gap 0.60-CW","t":39.0,"v":860},{"g":"Gap 0.60-CW","t":38.6,"v":862},{"g":"Gap 0.60-CW","t":38.2,"v":850},{"g":"Gap 0.60-CW","t":37.8,"v":840},{"g":"Gap 0.60-CW","t":37.4,"v":825},{"g":"Gap 0.60-CW","t":37.0,"v":805},{"g":"Gap 0.60-CW","t":36.6,"v":790},{"g":"Gap 0.60-CW","t":36.2,"v":770},{"g":"Gap 0.60-CW","t":35.8,"v":750},{"g":"Gap 0.60-CW","t":35.4,"v":735},{"g":"Gap 0.60-CW","t":35.0,"v":715},{"g":"Gap 0.60-CW","t":34.6,"v":700},{"g":"Gap 0.60-CW","t":34.3,"v":680},{"g":"Gap 0.60-CW","t":34.0,"v":667},{"g":"Gap 0.60-CW","t":33.9,"v":748},{"g":"Gap 0.60-CW","t":33.5,"v":700},{"g":"Gap 0.60-CW","t":33.1,"v":640},{"g":"Gap 0.60-CW","t":32.8,"v":625},{"g":"Gap 0.60-CW","t":32.5,"v":630},{"g":"Gap 0.60-CW","t":32.2,"v":625},{"g":"Gap 0.60-CW","t":31.8,"v":610},{"g":"Gap 0.60-CW","t":31.4,"v":590},{"g":"Gap 0.60-CW","t":31.0,"v":565},{"g":"Gap 0.60-CW","t":30.6,"v":540},{"g":"Gap 0.60-CW","t":30.3,"v":515},{"g":"Gap 0.60-CW","t":30.0,"v":490},{"g":"Gap 0.60-CW","t":29.6,"v":460},{"g":"Gap 0.60-CW","t":29.3,"v":429},{"g":"Gap 0.60-CW","t":29.1,"v":410},{"g":"Gap 0.60-CW","t":28.8,"v":388},{"g":"Gap 0.60-CW","t":28.7,"v":500},{"g":"Gap 0.60-CW","t":28.6,"v":485},{"g":"Gap 0.60-CW","t":28.3,"v":455},{"g":"Gap 0.60-CW","t":28.0,"v":425},{"g":"Gap 0.60-CW","t":27.7,"v":395},{"g":"Gap 0.60-CW","t":27.3,"v":368},{"g":"Gap 0.60-CW","t":27.0,"v":348},{"g":"Gap 0.60-CW","t":26.7,"v":321},{"g":"Gap 0.60-CW","t":26.3,"v":287},{"g":"Gap 0.60-CW","t":25.8,"v":254},{"g":"Gap 0.60-CW","t":25.5,"v":225},{"g":"Gap 0.60-CW","t":25.2,"v":193},{"g":"Gap 0.60-CW","t":24.9,"v":165},{"g":"Gap 0.60-CW","t":24.4,"v":130},{"g":"Gap 0.60-CW","t":24.0,"v":105},{"g":"Gap 0.60-CW","t":23.5,"v":70},{"g":"Gap 0.60-CW","t":23.0,"v":40},{"g":"Gap 0.60-CW","t":22.4,"v":15},{"g":"Gap 0.60-CW","t":21.9,"v":5},
    {"g":"Gap 0.60-CW","t":21.5,"v":3},{"g":"Gap 0.60-CW","t":21.0,"v":12},{"g":"Gap 0.60-CW","t":20.5,"v":15},{"g":"Gap 0.60-CW","t":20.0,"v":10},{"g":"Gap 0.60-CW","t":19.5,"v":8},{"g":"Gap 0.60-CW","t":12.4,"v":18},{"g":"Gap 0.60-CW","t":12.0,"v":15},{"g":"Gap 0.60-CW","t":11.5,"v":12},{"g":"Gap 0.60-CW","t":11.0,"v":10},{"g":"Gap 0.60-CW","t":10.5,"v":8},{"g":"Gap 0.60-CW","t":10.0,"v":5},{"g":"Gap 0.60-CW","t":9.5,"v":3},{"g":"Gap 0.60-CW","t":9.0,"v":2}
  ]},
  "layer": [
    {
      "mark": {"type": "line", "clip": true},
      "encoding": {
        "x": {"field": "t", "type": "quantitative",
          "scale": {"domain": [0, 43], "nice": false, "zero": false},
          "axis": {"values": [0,2,4,6,8,10,12,14,16,18,20,22,24,26,28,30,32,34,36,38,40,42],
            "grid": false, "ticks": false, "domainColor": "#000", "domainWidth": 1.5,
            "labelFontSize": 23, "labelPadding": 14, "labelFlush": false,
            "title": "Torque【N・m】", "titleFont": "Liberation Sans Narrow, Noto Sans CJK JP", "titleFontSize": 31, "titleFontWeight": "normal",
            "titleX": 435, "titleY": 63, "titleBaseline": "middle"}},
        "y": {"field": "v", "type": "quantitative",
          "scale": {"domain": [0, 1200], "nice": false},
          "axis": {"values": [0,100,200,300,400,500,600,700,800,900,1000,1100,1200], "format": "d",
            "grid": true, "gridColor": "#444444", "gridWidth": 1, "ticks": false,
            "domainColor": "#000", "domainWidth": 1.5,
            "labelFontSize": 23, "labelPadding": 9,
            "title": "Differential speed【rpm】", "titleFont": "DejaVu Sans Mono, Noto Sans CJK JP", "titleFontSize": 36, "titleFontWeight": "normal",
            "titleAngle": -90, "titleX": -90, "titleY": 308, "titleAlign": "center", "titleBaseline": "middle"}},
        "order": {"value": null},
        "stroke": {"field": "g", "type": "nominal",
          "scale": {"range": ["#000000", "#000000", "#6a6a6a", "#000000"]},
          "legend": {"orient": "none", "legendX": 33, "legendY": 114, "title": null,
            "symbolType": "stroke", "symbolSize": 961, "symbolStrokeWidth": 2.5,
            "symbolOffset": 28, "labelOffset": 10, "padding": 6, "rowPadding": 6,
            "labelFont": "DejaVu Sans", "labelFontSize": 20, "labelFontWeight": "bold", "labelColor": "#000", "labelLimit": 400,
            "strokeColor": "#000", "fillColor": "#ffffff", "cornerRadius": 0,
            "encode": {"symbols": {"update": {"strokeWidth": {"signal": "datum.value === 'Gap 0.60-CCW' ? 1 : datum.value === 'Gap 0.60-CW' ? 2 : 3"}}}}}},
        "strokeWidth": {"condition": [
          {"test": "datum.g === 'Gap 0.30-CW'", "value": 2.3},
          {"test": "datum.g === 'Gap 0.60-CCW'", "value": 0.8},
          {"test": "datum.g === 'Gap 0.60-CW'", "value": 1.5}], "value": 1.5}
      }
    },
    {
      "transform": [{"calculate": "datum.g", "as": "series"}],
      "mark": {"type": "point", "filled": true, "strokeWidth": 0.8, "opacity": 1, "clip": true},
      "encoding": {
        "x": {"field": "t", "type": "quantitative",
          "axis": {"orient": "top", "offset": -590, "values": [0,0.5,1,1.5,2,2.5,3,3.5,4,4.5,5,5.5,6,6.5,7,7.5,8,8.5,9,9.5,10,10.5,11,11.5,12,12.5,13,13.5,14,14.5,15,15.5,16,16.5,17,17.5,18,18.5,19,19.5,20,20.5,21,21.5,22,22.5,23,23.5,24,24.5,25,25.5,26,26.5,27,27.5,28,28.5,29,29.5,30,30.5,31,31.5,32,32.5,33,33.5,34,34.5,35,35.5,36,36.5,37,37.5,38,38.5,39,39.5,40,40.5,41,41.5,42,42.5],
            "labels": false, "domain": false, "grid": false, "tickSize": 4, "tickColor": "#000", "title": null}},
        "y": {"field": "v", "type": "quantitative",
          "axis": {"orient": "right", "offset": -867, "values": [20,40,60,80,120,140,160,180,220,240,260,280,320,340,360,380,420,440,460,480,520,540,560,580,620,640,660,680,720,740,760,780,820,840,860,880,920,940,960,980,1020,1040,1060,1080,1120,1140,1160,1180],
            "labels": false, "domain": false, "grid": false, "tickSize": 5, "tickColor": "#000", "title": null}},
        "shape": {"field": "series", "type": "nominal",
          "scale": {"range": ["triangle-up", "triangle-up", "diamond", "diamond"]},
          "legend": {"orient": "none", "legendX": 33, "legendY": 114, "title": null,
            "symbolSize": 80, "symbolOffset": 34, "padding": 6, "rowPadding": 6,
            "symbolStrokeColor": "#000", "symbolStrokeWidth": 0.9,
            "labelFont": "DejaVu Sans", "labelFontSize": 20, "labelFontWeight": "bold", "labelExpr": "''",
            "strokeColor": null, "fillColor": null}},
        "fill": {"field": "series", "type": "nominal",
          "scale": {"range": ["#9cc2e8", "#ffffff", "#3d63e6", "#ffffff"]},
          "legend": {"orient": "none", "legendX": 33, "legendY": 114, "title": null,
            "symbolSize": 80, "symbolOffset": 34, "padding": 6, "rowPadding": 6,
            "symbolStrokeColor": "#000", "symbolStrokeWidth": 0.9,
            "labelFont": "DejaVu Sans", "labelFontSize": 20, "labelFontWeight": "bold", "labelExpr": "''",
            "strokeColor": null, "fillColor": null}},
        "stroke": {"condition": {"test": "datum.series === 'Gap 0.60-CCW'", "value": "#1c2c7a"}, "value": "#000000"},
        "size": {"condition": {"test": "datum.series === 'Gap 0.60-CCW' || datum.series === 'Gap 0.60-CW'", "value": 72}, "value": 85}
      }
    }
  ],
  "resolve": {"axis": {"x": "independent", "y": "independent"}}
}
